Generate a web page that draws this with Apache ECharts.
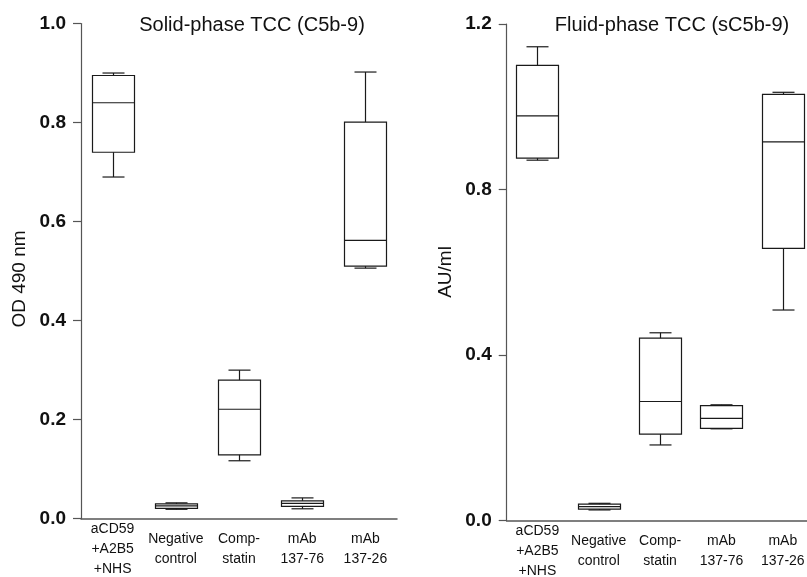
<!DOCTYPE html>
<html>
<head>
<meta charset="utf-8">
<script src="https://cdn.jsdelivr.net/npm/echarts@6/dist/echarts.min.js"></script>
<style>
html, body { margin: 0; padding: 0; background: #fff; }
#main { width: 807px; height: 577px; }
</style>
</head>
<body>
<div id="main"></div>
<script>
var categories = ['aCD59\n+A2B5\n+NHS', 'Negative\ncontrol', 'Comp-\nstatin', 'mAb\n137-76', 'mAb\n137-26'];
// each row: [min, Q1, median, Q3, max]
var solidPhase = [
    [0.690, 0.740, 0.840, 0.895, 0.900],
    [0.019, 0.021, 0.026, 0.030, 0.032],
    [0.117, 0.129, 0.221, 0.280, 0.300],
    [0.020, 0.025, 0.031, 0.036, 0.042],
    [0.506, 0.510, 0.562, 0.801, 0.902]
];
var fluidPhase = [
    [0.871, 0.876, 0.978, 1.100, 1.145],
    [0.026, 0.028, 0.034, 0.040, 0.042],
    [0.183, 0.209, 0.288, 0.441, 0.454],
    [0.222, 0.223, 0.247, 0.278, 0.280],
    [0.509, 0.658, 0.915, 1.030, 1.035]
];
var solidTicks = [0, 0.2, 0.4, 0.6, 0.8, 1.0];
var fluidTicks = [0, 0.4, 0.8, 1.2];

var FONT = 'Liberation Sans, Arial, sans-serif';
var myChart = echarts.init(document.getElementById('main'));

var toRows = function (stats) {
    return stats.map(function (s, i) { return [i].concat(s); });
};

// box with half-width whisker caps
var renderBox = function (params, api) {
    var x = api.value(0);
    var lo = api.coord([x, api.value(1)]);
    var q1 = api.coord([x, api.value(2)]);
    var med = api.coord([x, api.value(3)]);
    var q3 = api.coord([x, api.value(4)]);
    var hi = api.coord([x, api.value(5)]);
    var cx = Math.round(lo[0]) + 0.5;
    var w = 42, cap = 11;
    var st = { stroke: '#1a1a1a', lineWidth: 1.2, fill: null };
    return {
        type: 'group',
        children: [
            { type: 'rect', shape: { x: cx - w / 2, y: q3[1], width: w, height: q1[1] - q3[1] }, style: st },
            { type: 'line', shape: { x1: cx - w / 2, y1: med[1], x2: cx + w / 2, y2: med[1] }, style: st },
            { type: 'line', shape: { x1: cx, y1: q3[1], x2: cx, y2: hi[1] }, style: st },
            { type: 'line', shape: { x1: cx - cap, y1: hi[1], x2: cx + cap, y2: hi[1] }, style: st },
            { type: 'line', shape: { x1: cx, y1: q1[1], x2: cx, y2: lo[1] }, style: st },
            { type: 'line', shape: { x1: cx - cap, y1: lo[1], x2: cx + cap, y2: lo[1] }, style: st }
        ]
    };
};

var xAxisFor = function (gridIndex) {
    return {
        type: 'category', gridIndex: gridIndex, data: categories,
        axisLine: { lineStyle: { color: '#555', width: 1.5 } },
        axisTick: { show: false },
        axisLabel: {
            interval: 0, margin: 30, color: '#111', fontFamily: FONT, fontSize: 14,
            lineHeight: 20, verticalAlign: 'middle'
        }
    };
};
var yAxisFor = function (gridIndex, ticks) {
    return {
        type: 'value', gridIndex: gridIndex,
        min: ticks[0], max: ticks[ticks.length - 1], interval: ticks[1] - ticks[0],
        splitLine: { show: false },
        axisLine: { show: true, lineStyle: { color: '#555', width: 1.2 } },
        axisTick: { show: true, length: 8, lineStyle: { color: '#555', width: 1.2 } },
        axisLabel: {
            margin: 15, color: '#111', fontFamily: FONT, fontSize: 19, fontWeight: 'bold',
            formatter: function (v) { return v.toFixed(1); }
        }
    };
};

var option = {
    animation: false,
    title: [
        { text: 'Solid-phase TCC (C5b-9)', left: 247, top: 10, textAlign: 'center',
          textStyle: { fontFamily: FONT, fontSize: 20, fontWeight: 'normal', color: '#111' } },
        { text: 'Fluid-phase TCC (sC5b-9)', left: 667, top: 10, textAlign: 'center',
          textStyle: { fontFamily: FONT, fontSize: 20, fontWeight: 'normal', color: '#111' } }
    ],
    grid: [
        { left: 81, top: 23.5, right: 410, bottom: 58.3, outerBoundsMode: 'none' },
        { left: 506.7, top: 24, right: -6.5, bottom: 56.3, outerBoundsMode: 'none' }
    ],
    xAxis: [xAxisFor(0), xAxisFor(1)],
    yAxis: [yAxisFor(0, solidTicks), yAxisFor(1, fluidTicks)],
    graphic: [
        { type: 'text', x: 20, y: 279, rotation: Math.PI / 2,
          style: { text: 'OD 490 nm', fontFamily: FONT, fontSize: 19, fill: '#111', align: 'center', verticalAlign: 'middle' } },
        { type: 'text', x: 446, y: 272, rotation: Math.PI / 2,
          style: { text: 'AU/ml', fontFamily: FONT, fontSize: 19, fill: '#111', align: 'center', verticalAlign: 'middle' } }
    ],
    series: [
        { type: 'custom', name: 'Solid-phase', xAxisIndex: 0, yAxisIndex: 0,
          renderItem: renderBox, encode: { x: 0, y: [1, 2, 3, 4, 5] }, data: toRows(solidPhase) },
        { type: 'custom', name: 'Fluid-phase', xAxisIndex: 1, yAxisIndex: 1,
          renderItem: renderBox, encode: { x: 0, y: [1, 2, 3, 4, 5] }, data: toRows(fluidPhase) }
    ]
};
myChart.setOption(option);
</script>
</body>
</html>
